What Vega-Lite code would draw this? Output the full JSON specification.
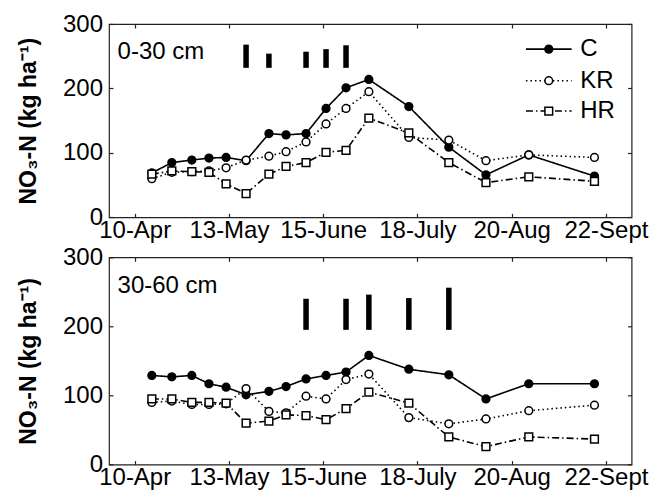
{
  "$schema": "https://vega.github.io/schema/vega-lite/v6.json",
  "background": "white",
  "padding": {"left": 16, "top": 11, "right": 5, "bottom": 5},
  "autosize": {"type": "pad"},
  "spacing": 39.3,
  "bounds": "flush",
  "config": {
    "view": {"stroke": "#222", "strokeWidth": 1.2},
    "axis": {"labelFont": "Liberation Sans", "labelFontSize": 24, "labelColor": "#000", "titleFont": "Liberation Sans", "titleColor": "#000", "tickColor": "#222", "domain": false, "grid": false, "tickSize": -4, "tickWidth": 1.2, "labelFlush": false, "labelOverlap": false},
    "text": {"font": "Liberation Sans"}
  },
  "datasets": {
    "obs": [
      {"depth": "0-30", "series": "C", "date": "2010-04-16", "value": 69},
      {"depth": "0-30", "series": "C", "date": "2010-04-23", "value": 85},
      {"depth": "0-30", "series": "C", "date": "2010-04-30", "value": 89},
      {"depth": "0-30", "series": "C", "date": "2010-05-06", "value": 92},
      {"depth": "0-30", "series": "C", "date": "2010-05-12", "value": 93},
      {"depth": "0-30", "series": "C", "date": "2010-05-19", "value": 88},
      {"depth": "0-30", "series": "C", "date": "2010-05-27", "value": 130},
      {"depth": "0-30", "series": "C", "date": "2010-06-02", "value": 128},
      {"depth": "0-30", "series": "C", "date": "2010-06-09", "value": 130},
      {"depth": "0-30", "series": "C", "date": "2010-06-16", "value": 169},
      {"depth": "0-30", "series": "C", "date": "2010-06-23", "value": 201},
      {"depth": "0-30", "series": "C", "date": "2010-07-01", "value": 214},
      {"depth": "0-30", "series": "C", "date": "2010-07-15", "value": 172},
      {"depth": "0-30", "series": "C", "date": "2010-07-29", "value": 109},
      {"depth": "0-30", "series": "C", "date": "2010-08-11", "value": 66},
      {"depth": "0-30", "series": "C", "date": "2010-08-26", "value": 97},
      {"depth": "0-30", "series": "C", "date": "2010-09-18", "value": 64},
      {"depth": "0-30", "series": "KR", "date": "2010-04-16", "value": 60},
      {"depth": "0-30", "series": "KR", "date": "2010-04-23", "value": 70},
      {"depth": "0-30", "series": "KR", "date": "2010-04-30", "value": 71},
      {"depth": "0-30", "series": "KR", "date": "2010-05-06", "value": 72},
      {"depth": "0-30", "series": "KR", "date": "2010-05-12", "value": 77},
      {"depth": "0-30", "series": "KR", "date": "2010-05-19", "value": 89},
      {"depth": "0-30", "series": "KR", "date": "2010-05-27", "value": 95},
      {"depth": "0-30", "series": "KR", "date": "2010-06-02", "value": 102},
      {"depth": "0-30", "series": "KR", "date": "2010-06-09", "value": 117},
      {"depth": "0-30", "series": "KR", "date": "2010-06-16", "value": 145},
      {"depth": "0-30", "series": "KR", "date": "2010-06-23", "value": 169},
      {"depth": "0-30", "series": "KR", "date": "2010-07-01", "value": 195},
      {"depth": "0-30", "series": "KR", "date": "2010-07-15", "value": 124},
      {"depth": "0-30", "series": "KR", "date": "2010-07-29", "value": 120},
      {"depth": "0-30", "series": "KR", "date": "2010-08-11", "value": 88},
      {"depth": "0-30", "series": "KR", "date": "2010-08-26", "value": 97},
      {"depth": "0-30", "series": "KR", "date": "2010-09-18", "value": 93},
      {"depth": "0-30", "series": "HR", "date": "2010-04-16", "value": 67},
      {"depth": "0-30", "series": "HR", "date": "2010-04-23", "value": 72},
      {"depth": "0-30", "series": "HR", "date": "2010-04-30", "value": 71},
      {"depth": "0-30", "series": "HR", "date": "2010-05-06", "value": 70},
      {"depth": "0-30", "series": "HR", "date": "2010-05-12", "value": 52},
      {"depth": "0-30", "series": "HR", "date": "2010-05-19", "value": 37},
      {"depth": "0-30", "series": "HR", "date": "2010-05-27", "value": 67},
      {"depth": "0-30", "series": "HR", "date": "2010-06-02", "value": 79},
      {"depth": "0-30", "series": "HR", "date": "2010-06-09", "value": 85},
      {"depth": "0-30", "series": "HR", "date": "2010-06-16", "value": 101},
      {"depth": "0-30", "series": "HR", "date": "2010-06-23", "value": 104},
      {"depth": "0-30", "series": "HR", "date": "2010-07-01", "value": 154},
      {"depth": "0-30", "series": "HR", "date": "2010-07-15", "value": 131},
      {"depth": "0-30", "series": "HR", "date": "2010-07-29", "value": 85},
      {"depth": "0-30", "series": "HR", "date": "2010-08-11", "value": 54},
      {"depth": "0-30", "series": "HR", "date": "2010-08-26", "value": 63},
      {"depth": "0-30", "series": "HR", "date": "2010-09-18", "value": 56},
      {"depth": "30-60", "series": "C", "date": "2010-04-16", "value": 129},
      {"depth": "30-60", "series": "C", "date": "2010-04-23", "value": 127},
      {"depth": "30-60", "series": "C", "date": "2010-04-30", "value": 129},
      {"depth": "30-60", "series": "C", "date": "2010-05-06", "value": 117},
      {"depth": "30-60", "series": "C", "date": "2010-05-12", "value": 112},
      {"depth": "30-60", "series": "C", "date": "2010-05-19", "value": 101},
      {"depth": "30-60", "series": "C", "date": "2010-05-27", "value": 106},
      {"depth": "30-60", "series": "C", "date": "2010-06-02", "value": 113},
      {"depth": "30-60", "series": "C", "date": "2010-06-09", "value": 124},
      {"depth": "30-60", "series": "C", "date": "2010-06-16", "value": 129},
      {"depth": "30-60", "series": "C", "date": "2010-06-23", "value": 134},
      {"depth": "30-60", "series": "C", "date": "2010-07-01", "value": 158},
      {"depth": "30-60", "series": "C", "date": "2010-07-15", "value": 138},
      {"depth": "30-60", "series": "C", "date": "2010-07-29", "value": 130},
      {"depth": "30-60", "series": "C", "date": "2010-08-11", "value": 95},
      {"depth": "30-60", "series": "C", "date": "2010-08-26", "value": 117},
      {"depth": "30-60", "series": "C", "date": "2010-09-18", "value": 117},
      {"depth": "30-60", "series": "KR", "date": "2010-04-16", "value": 90},
      {"depth": "30-60", "series": "KR", "date": "2010-04-23", "value": 92},
      {"depth": "30-60", "series": "KR", "date": "2010-04-30", "value": 87},
      {"depth": "30-60", "series": "KR", "date": "2010-05-06", "value": 87},
      {"depth": "30-60", "series": "KR", "date": "2010-05-12", "value": 88},
      {"depth": "30-60", "series": "KR", "date": "2010-05-19", "value": 110},
      {"depth": "30-60", "series": "KR", "date": "2010-05-27", "value": 77},
      {"depth": "30-60", "series": "KR", "date": "2010-06-02", "value": 75},
      {"depth": "30-60", "series": "KR", "date": "2010-06-09", "value": 99},
      {"depth": "30-60", "series": "KR", "date": "2010-06-16", "value": 95},
      {"depth": "30-60", "series": "KR", "date": "2010-06-23", "value": 123},
      {"depth": "30-60", "series": "KR", "date": "2010-07-01", "value": 131},
      {"depth": "30-60", "series": "KR", "date": "2010-07-15", "value": 68},
      {"depth": "30-60", "series": "KR", "date": "2010-07-29", "value": 59},
      {"depth": "30-60", "series": "KR", "date": "2010-08-11", "value": 66},
      {"depth": "30-60", "series": "KR", "date": "2010-08-26", "value": 78},
      {"depth": "30-60", "series": "KR", "date": "2010-09-18", "value": 86},
      {"depth": "30-60", "series": "HR", "date": "2010-04-16", "value": 95},
      {"depth": "30-60", "series": "HR", "date": "2010-04-23", "value": 95},
      {"depth": "30-60", "series": "HR", "date": "2010-04-30", "value": 90},
      {"depth": "30-60", "series": "HR", "date": "2010-05-06", "value": 90},
      {"depth": "30-60", "series": "HR", "date": "2010-05-12", "value": 89},
      {"depth": "30-60", "series": "HR", "date": "2010-05-19", "value": 60},
      {"depth": "30-60", "series": "HR", "date": "2010-05-27", "value": 63},
      {"depth": "30-60", "series": "HR", "date": "2010-06-02", "value": 72},
      {"depth": "30-60", "series": "HR", "date": "2010-06-09", "value": 71},
      {"depth": "30-60", "series": "HR", "date": "2010-06-16", "value": 65},
      {"depth": "30-60", "series": "HR", "date": "2010-06-23", "value": 81},
      {"depth": "30-60", "series": "HR", "date": "2010-07-01", "value": 105},
      {"depth": "30-60", "series": "HR", "date": "2010-07-15", "value": 89},
      {"depth": "30-60", "series": "HR", "date": "2010-07-29", "value": 40},
      {"depth": "30-60", "series": "HR", "date": "2010-08-11", "value": 26},
      {"depth": "30-60", "series": "HR", "date": "2010-08-26", "value": 40},
      {"depth": "30-60", "series": "HR", "date": "2010-09-18", "value": 37}
    ],
    "bars": [
      {"depth": "0-30", "date": "2010-05-19", "lo": 232, "hi": 268},
      {"depth": "0-30", "date": "2010-05-27", "lo": 232, "hi": 254},
      {"depth": "0-30", "date": "2010-06-09", "lo": 232, "hi": 257},
      {"depth": "0-30", "date": "2010-06-16", "lo": 232, "hi": 261},
      {"depth": "0-30", "date": "2010-06-23", "lo": 232, "hi": 267},
      {"depth": "30-60", "date": "2010-06-09", "lo": 195, "hi": 240},
      {"depth": "30-60", "date": "2010-06-23", "lo": 195, "hi": 240},
      {"depth": "30-60", "date": "2010-07-01", "lo": 195, "hi": 246},
      {"depth": "30-60", "date": "2010-07-15", "lo": 195, "hi": 241},
      {"depth": "30-60", "date": "2010-07-29", "lo": 195, "hi": 256}
    ],
    "labels": [
      {"depth": "0-30", "date": "2010-04-04", "value": 256, "text": "0-30 cm"},
      {"depth": "30-60", "date": "2010-04-04", "value": 258, "text": "30-60 cm"}
    ],
    "legend": [
      {"series": "C", "start": "2010-08-25", "end": "2010-09-10", "mid": "2010-09-02", "tpos": "2010-09-13", "value": 261},
      {"series": "KR", "start": "2010-08-25", "end": "2010-09-10", "mid": "2010-09-02", "tpos": "2010-09-13", "value": 212},
      {"series": "HR", "start": "2010-08-25", "end": "2010-09-10", "mid": "2010-09-02", "tpos": "2010-09-13", "value": 165}
    ]
  },
  "vconcat": [
    {
      "width": 522.6,
      "height": 193.4,
      "resolve": {"axis": {"x": "independent", "y": "independent"}},
      "layer": [
        {
          "data": {"name": "obs"},
          "transform": [{"filter": "datum.depth === '0-30'"}],
          "mark": {"type": "line", "color": "#000", "strokeWidth": 1.6},
          "encoding": {
            "x": {"field": "date", "type": "temporal", "scale": {"type": "utc", "domain": [{"year": 2010, "month": 4, "date": 1, "utc": true}, {"year": 2010, "month": 10, "date": 1, "utc": true}]},
              "axis": {"orient": "bottom", "title": null, "values": [{"year": 2010, "month": 4, "date": 10, "utc": true}, {"year": 2010, "month": 5, "date": 13, "utc": true}, {"year": 2010, "month": 6, "date": 15, "utc": true}, {"year": 2010, "month": 7, "date": 18, "utc": true}, {"year": 2010, "month": 8, "date": 20, "utc": true}, {"year": 2010, "month": 9, "date": 22, "utc": true}],
                "labelExpr": "utcdate(datum.value) + '-' + ['Jan','Feb','Mar','Apr','May','June','July','Aug','Sept','Oct','Nov','Dec'][utcmonth(datum.value)]", "labelPadding": 5}},
            "y": {"field": "value", "type": "quantitative", "scale": {"domain": [0, 300], "nice": false},
              "axis": {"orient": "left", "values": [0, 100, 200, 300], "title": "NO₃-N (kg ha⁻¹)", "titleFontWeight": "bold", "titleFontSize": 23, "titlePadding": 22, "labelPadding": 10.5}},
            "detail": {"field": "series"},
            "strokeDash": {"field": "series", "type": "nominal", "scale": {"domain": ["C", "KR", "HR"], "range": [[1, 0], [1.5, 3], [7, 3, 1.5, 3]]}, "legend": null}
          }
        },
        {
          "data": {"name": "bars"},
          "transform": [{"filter": "datum.depth === '0-30'"}],
          "mark": {"type": "rule", "color": "#000", "strokeWidth": 5.5, "strokeCap": "butt"},
          "encoding": {
            "x": {"field": "date", "type": "temporal", "axis": {"orient": "top", "title": null, "labels": false, "values": [{"year": 2010, "month": 4, "date": 10, "utc": true}, {"year": 2010, "month": 5, "date": 13, "utc": true}, {"year": 2010, "month": 6, "date": 15, "utc": true}, {"year": 2010, "month": 7, "date": 18, "utc": true}, {"year": 2010, "month": 8, "date": 20, "utc": true}, {"year": 2010, "month": 9, "date": 22, "utc": true}]}},
            "y": {"field": "lo", "type": "quantitative", "axis": {"orient": "right", "title": null, "labels": false, "values": [0, 100, 200, 300]}},
            "y2": {"field": "hi"}
          }
        },
        {
          "data": {"name": "obs"},
          "transform": [{"filter": "datum.depth === '0-30'"}],
          "mark": {"type": "point", "opacity": 1, "strokeWidth": 1.5, "stroke": "#000"},
          "encoding": {
            "x": {"field": "date", "type": "temporal", "axis": null},
            "y": {"field": "value", "type": "quantitative", "axis": null},
            "shape": {"field": "series", "type": "nominal", "scale": {"domain": ["C", "KR", "HR"], "range": ["circle", "circle", "square"]}, "legend": null},
            "fill": {"field": "series", "type": "nominal", "scale": {"domain": ["C", "KR", "HR"], "range": ["#000", "#fff", "#fff"]}, "legend": null},
            "size": {"value": 60}
          }
        },
        {
          "data": {"name": "labels"},
          "transform": [{"filter": "datum.depth === '0-30'"}],
          "mark": {"type": "text", "align": "left", "baseline": "middle", "fontSize": 24, "color": "#000"},
          "encoding": {
            "x": {"field": "date", "type": "temporal", "axis": null},
            "y": {"field": "value", "type": "quantitative", "axis": null},
            "text": {"field": "text"}
          }
        },
        {
          "data": {"name": "legend"},
          "mark": {"type": "rule", "color": "#000", "strokeWidth": 1.6},
          "encoding": {
            "x": {"field": "start", "type": "temporal", "axis": null},
            "x2": {"field": "end"},
            "y": {"field": "value", "type": "quantitative", "axis": null},
            "strokeDash": {"field": "series", "type": "nominal", "legend": null}
          }
        },
        {
          "data": {"name": "legend"},
          "mark": {"type": "point", "opacity": 1, "strokeWidth": 1.5, "stroke": "#000"},
          "encoding": {
            "x": {"field": "mid", "type": "temporal", "axis": null},
            "y": {"field": "value", "type": "quantitative", "axis": null},
            "shape": {"field": "series", "type": "nominal", "legend": null},
            "fill": {"field": "series", "type": "nominal", "legend": null},
            "size": {"value": 60}
          }
        },
        {
          "data": {"name": "legend"},
          "mark": {"type": "text", "align": "left", "baseline": "middle", "fontSize": 24, "color": "#000"},
          "encoding": {
            "x": {"field": "tpos", "type": "temporal", "axis": null},
            "y": {"field": "value", "type": "quantitative", "axis": null},
            "text": {"field": "series"}
          }
        }
      ]
    },
    {
      "width": 522.6,
      "height": 207.3,
      "resolve": {"axis": {"x": "independent", "y": "independent"}},
      "layer": [
        {
          "data": {"name": "obs"},
          "transform": [{"filter": "datum.depth === '30-60'"}],
          "mark": {"type": "line", "color": "#000", "strokeWidth": 1.6},
          "encoding": {
            "x": {"field": "date", "type": "temporal", "scale": {"type": "utc", "domain": [{"year": 2010, "month": 4, "date": 1, "utc": true}, {"year": 2010, "month": 10, "date": 1, "utc": true}]},
              "axis": {"orient": "bottom", "title": null, "values": [{"year": 2010, "month": 4, "date": 10, "utc": true}, {"year": 2010, "month": 5, "date": 13, "utc": true}, {"year": 2010, "month": 6, "date": 15, "utc": true}, {"year": 2010, "month": 7, "date": 18, "utc": true}, {"year": 2010, "month": 8, "date": 20, "utc": true}, {"year": 2010, "month": 9, "date": 22, "utc": true}],
                "labelExpr": "utcdate(datum.value) + '-' + ['Jan','Feb','Mar','Apr','May','June','July','Aug','Sept','Oct','Nov','Dec'][utcmonth(datum.value)]", "labelPadding": 5}},
            "y": {"field": "value", "type": "quantitative", "scale": {"domain": [0, 300], "nice": false},
              "axis": {"orient": "left", "values": [0, 100, 200, 300], "title": "NO₃-N (kg ha⁻¹)", "titleFontWeight": "bold", "titleFontSize": 23, "titlePadding": 22, "labelPadding": 10.5}},
            "detail": {"field": "series"},
            "strokeDash": {"field": "series", "type": "nominal", "scale": {"domain": ["C", "KR", "HR"], "range": [[1, 0], [1.5, 3], [7, 3, 1.5, 3]]}, "legend": null}
          }
        },
        {
          "data": {"name": "bars"},
          "transform": [{"filter": "datum.depth === '30-60'"}],
          "mark": {"type": "rule", "color": "#000", "strokeWidth": 5.5, "strokeCap": "butt"},
          "encoding": {
            "x": {"field": "date", "type": "temporal", "axis": {"orient": "top", "title": null, "labels": false, "values": [{"year": 2010, "month": 4, "date": 10, "utc": true}, {"year": 2010, "month": 5, "date": 13, "utc": true}, {"year": 2010, "month": 6, "date": 15, "utc": true}, {"year": 2010, "month": 7, "date": 18, "utc": true}, {"year": 2010, "month": 8, "date": 20, "utc": true}, {"year": 2010, "month": 9, "date": 22, "utc": true}]}},
            "y": {"field": "lo", "type": "quantitative", "axis": {"orient": "right", "title": null, "labels": false, "values": [0, 100, 200, 300]}},
            "y2": {"field": "hi"}
          }
        },
        {
          "data": {"name": "obs"},
          "transform": [{"filter": "datum.depth === '30-60'"}],
          "mark": {"type": "point", "opacity": 1, "strokeWidth": 1.5, "stroke": "#000"},
          "encoding": {
            "x": {"field": "date", "type": "temporal", "axis": null},
            "y": {"field": "value", "type": "quantitative", "axis": null},
            "shape": {"field": "series", "type": "nominal", "scale": {"domain": ["C", "KR", "HR"], "range": ["circle", "circle", "square"]}, "legend": null},
            "fill": {"field": "series", "type": "nominal", "scale": {"domain": ["C", "KR", "HR"], "range": ["#000", "#fff", "#fff"]}, "legend": null},
            "size": {"value": 60}
          }
        },
        {
          "data": {"name": "labels"},
          "transform": [{"filter": "datum.depth === '30-60'"}],
          "mark": {"type": "text", "align": "left", "baseline": "middle", "fontSize": 24, "color": "#000"},
          "encoding": {
            "x": {"field": "date", "type": "temporal", "axis": null},
            "y": {"field": "value", "type": "quantitative", "axis": null},
            "text": {"field": "text"}
          }
        }
      ]
    }
  ]
}
